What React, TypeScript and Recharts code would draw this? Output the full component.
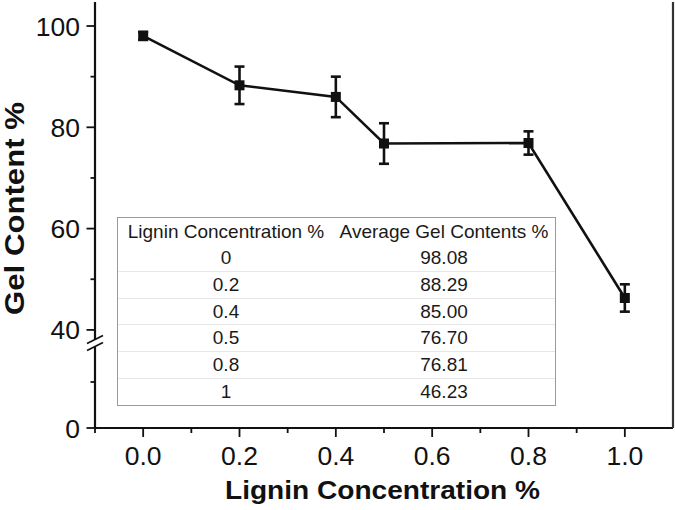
import React from "react";
import {
  ComposedChart,
  Line,
  XAxis,
  YAxis,
  ErrorBar,
  ReferenceDot,
} from "recharts";

const concentrations = [0, 0.2, 0.4, 0.5, 0.8, 1.0];
const gelMeans = [98.05, 88.29, 86.0, 76.8, 76.9, 46.3];
const gelErrors = [0.8, 3.7, 4.0, 4.0, 2.3, 2.7];

// inset table
const tableHeader = ["Lignin Concentration %", "Average Gel Contents %"];
const tableConc = ["0", "0.2", "0.4", "0.5", "0.8", "1"];
const tableGel = ["98.08", "88.29", "85.00", "76.70", "76.81", "46.23"];

// axes
const xTicks = [-0.1, 0, 0.1, 0.2, 0.3, 0.4, 0.5, 0.6, 0.7, 0.8, 0.9, 1.0];
const xMajor = [0, 0.2, 0.4, 0.6, 0.8, 1.0];
const yTicks = [0, 20, 40, 50, 60, 70, 80, 90, 100];
const yMajor = [0, 40, 60, 80, 100];

const FONT = "'Liberation Sans', Arial, Helvetica, sans-serif";
const INK = "#111";

// broken y axis: 40..105 is linear, 0..40 is squeezed underneath
const BREAK_AT = 40;
const LOWER_BASE = 20.63;
const LOWER_K = 0.454;
const Y_TOP = 104.74;
const BREAK_POS = 37.4;

const toAxis = (v: number) => (v >= BREAK_AT ? v : LOWER_BASE + v * LOWER_K);
const fromAxis = (t: number) =>
  t >= BREAK_AT - 0.01 ? t : (t - LOWER_BASE) / LOWER_K;

const data = concentrations.map((c, i) => ({
  x: c,
  y: toAxis(gelMeans[i]),
  err: gelErrors[i],
}));

const XTick = (props: any) => {
  const { x, y, payload } = props;
  const v = Math.round(payload.value * 10) / 10;
  const major = xMajor.some((m) => Math.abs(m - v) < 1e-6);
  return (
    <g>
      <line
        x1={x}
        x2={x}
        y1={y}
        y2={y + (major ? 9 : 5)}
        stroke={INK}
        strokeWidth={1.8}
      />
      {major && (
        <text
          x={x}
          y={y + 37}
          textAnchor="middle"
          fontSize={26.5}
          fontFamily={FONT}
          fill={INK}
        >
          {v.toFixed(1)}
        </text>
      )}
    </g>
  );
};

const YTick = (props: any) => {
  const { x, y, payload } = props;
  const v = Math.round(fromAxis(payload.value));
  const major = yMajor.includes(v);
  return (
    <g>
      <line
        x1={x - (major ? 8.5 : 4.5)}
        x2={x}
        y1={y}
        y2={y}
        stroke={INK}
        strokeWidth={1.8}
      />
      {major && (
        <text
          x={x - 15}
          y={y}
          dy="0.36em"
          textAnchor="end"
          fontSize={26.5}
          fontFamily={FONT}
          fill={INK}
        >
          {v}
        </text>
      )}
    </g>
  );
};

const XTitle = (props: any) => {
  const { x, y, width } = props.viewBox;
  return (
    <text
      x={x + width / 2 - 1.5}
      y={y + 70.5}
      textAnchor="middle"
      fontSize={25}
      fontWeight="bold"
      fontFamily={FONT}
      fill={INK}
      textLength={315}
      lengthAdjust="spacingAndGlyphs"
    >
      Lignin Concentration %
    </text>
  );
};

const YTitle = () => {
  const cx = 24;
  const cy = 208.5;
  return (
    <text
      x={cx}
      y={cy}
      transform={`rotate(-90 ${cx} ${cy})`}
      textAnchor="middle"
      fontSize={28}
      fontWeight="bold"
      fontFamily={FONT}
      fill={INK}
      textLength={213}
      lengthAdjust="spacingAndGlyphs"
    >
      Gel Content %
    </text>
  );
};

const SquareDot = (props: any) => {
  const { cx, cy } = props;
  if (cx == null || cy == null) return null;
  return <rect x={cx - 5} y={cy - 5} width={10} height={10} fill={INK} />;
};

const BreakMark = (props: any) => {
  const { cx, cy } = props;
  return (
    <g>
      <rect x={cx - 2.5} y={cy - 3.5} width={5} height={7} fill="#fff" />
      <line
        x1={cx - 8}
        y1={cy + 0.5}
        x2={cx + 8}
        y2={cy - 7.5}
        stroke={INK}
        strokeWidth={1.6}
      />
      <line
        x1={cx - 8}
        y1={cy + 7.5}
        x2={cx + 8}
        y2={cy - 0.5}
        stroke={INK}
        strokeWidth={1.6}
      />
    </g>
  );
};

const GelTable = () => {
  const cell = (w: number): React.CSSProperties => ({
    width: w,
    textAlign: "center",
  });
  return (
    <div
      style={{
        position: "absolute",
        left: 117,
        top: 217,
        width: 439,
        height: 189,
        boxSizing: "border-box",
        border: "1.5px solid #9a9a9a",
        background: "#fff",
        fontFamily: FONT,
        fontSize: 19,
        color: "#1a1a1a",
      }}
    >
      <div style={{ display: "flex", height: 27, lineHeight: "27px" }}>
        <div style={cell(216)}>{tableHeader[0]}</div>
        <div style={cell(220)}>{tableHeader[1]}</div>
      </div>
      {tableConc.map((c, i) => (
        <div
          key={c}
          style={{
            display: "flex",
            height: 26.8,
            lineHeight: "26.8px",
            boxSizing: "border-box",
            borderBottom:
              i < tableConc.length - 1 ? "1px solid #e6e6e6" : "none",
          }}
        >
          <div style={cell(216)}>{c}</div>
          <div style={cell(220)}>{tableGel[i]}</div>
        </div>
      ))}
    </div>
  );
};

export default function App() {
  return (
    <div
      style={{
        position: "absolute",
        left: 0,
        top: 0,
        width: 675,
        height: 510,
        background: "#fff",
      }}
    >
      <ComposedChart
        width={675}
        height={510}
        data={data}
        margin={{ top: 2, right: 0, bottom: 0, left: 0 }}
      >
        <XAxis
          dataKey="x"
          type="number"
          domain={[-0.1, 1.1]}
          ticks={xTicks}
          interval={0}
          allowDataOverflow
          height={82}
          tickSize={0}
          tickMargin={0}
          tick={<XTick />}
          tickLine={false}
          axisLine={{ stroke: INK, strokeWidth: 2.2 }}
          label={{ content: <XTitle /> }}
        />
        <XAxis
          xAxisId="top"
          orientation="top"
          type="number"
          domain={[-0.1, 1.1]}
          height={0}
          tick={false}
          tickLine={false}
          axisLine={{ stroke: "#333", strokeWidth: 2.2 }}
        />
        <YAxis
          type="number"
          domain={[LOWER_BASE, Y_TOP]}
          ticks={yTicks.map(toAxis)}
          interval={0}
          allowDataOverflow
          width={95}
          tickSize={0}
          tickMargin={0}
          tick={<YTick />}
          tickLine={false}
          axisLine={{ stroke: INK, strokeWidth: 2.2 }}
          label={{ content: <YTitle /> }}
        />
        <YAxis
          yAxisId="right"
          orientation="right"
          type="number"
          domain={[LOWER_BASE, Y_TOP]}
          width={2}
          tick={false}
          tickLine={false}
          axisLine={{ stroke: "#333", strokeWidth: 2.2 }}
        />
        <Line
          dataKey="y"
          stroke={INK}
          strokeWidth={2.6}
          dot={<SquareDot />}
          activeDot={false}
          isAnimationActive={false}
        >
          <ErrorBar
            dataKey="err"
            direction="y"
            width={5}
            stroke={INK}
            strokeWidth={2.6}
          />
        </Line>
        <ReferenceDot
          x={-0.1}
          y={BREAK_POS}
          ifOverflow="visible"
          shape={<BreakMark />}
        />
      </ComposedChart>
      <GelTable />
    </div>
  );
}
